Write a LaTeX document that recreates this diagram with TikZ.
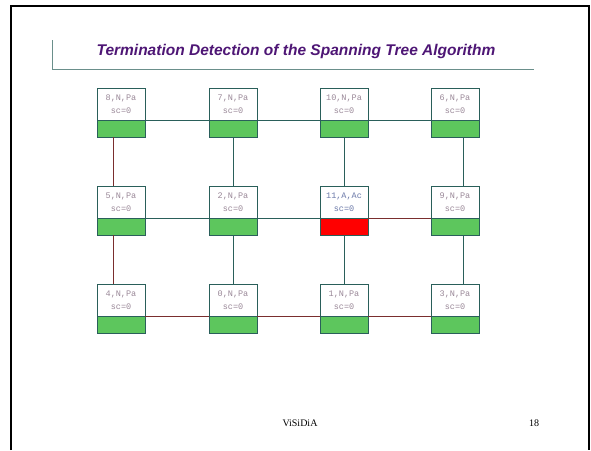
\documentclass[tikz,border=0pt]{standalone}
\usepackage{fontspec}
\setmainfont{Liberation Serif}
\setsansfont{Liberation Sans}
\setmonofont{Liberation Mono}
\usetikzlibrary{positioning}

\definecolor{titlepurple}{HTML}{4E1675}
\definecolor{linkteal}{HTML}{2A5F5A}
\definecolor{linkred}{HTML}{7A2E2E}
\definecolor{passive}{HTML}{5DC65D}
\definecolor{labelgrey}{HTML}{9A8898}
\definecolor{labelblue}{HTML}{6A78A8}

\tikzset{
  proc/.style={draw=linkteal, fill=white, minimum width=48pt, minimum height=32pt,
    inner sep=0pt, outer sep=0pt, align=center, text=labelgrey,
    font=\ttfamily\fontsize{8.5}{12.5}\selectfont},
  flag/.style={draw=linkteal, fill=passive, minimum width=48pt, minimum height=17pt,
    inner sep=0pt, outer sep=0pt},
  link/.style={draw=linkteal, line width=0.8pt},
  redlink/.style={draw=linkred, line width=0.8pt},
}

\begin{document}
\begin{tikzpicture}[x=1pt,y=-1pt]
\useasboundingbox (0,0) rectangle (591,450);
% slide frame and title
\draw[line width=2pt] (10.5,450) -- (10.5,5.5) -- (588.5,5.5) -- (588.5,450);
\draw[draw=linkteal!70, line width=1pt] (52,40) -- (52,69) -- (534,69);
\node [text=titlepurple, font=\sffamily\bfseries\itshape\fontsize{15.5}{18}\selectfont] (title) at (296,51)
  {Termination Detection of the Spanning Tree Algorithm};

% first row
\node [proc] (p8) at (121,104) {8,N,Pa\\sc=0};
\node [flag, below=0pt of p8] (f8) {};
\node [proc] (p7) at (233,104) {7,N,Pa\\sc=0};
\node [flag, below=0pt of p7] (f7) {};
\node [proc] (p10) at (344,104) {10,N,Pa\\sc=0};
\node [flag, below=0pt of p10] (f10) {};
\node [proc] (p6) at (455,104) {6,N,Pa\\sc=0};
\node [flag, below=0pt of p6] (f6) {};

% second row
\node [proc] (p5) at (121,202) {5,N,Pa\\sc=0};
\node [flag, below=0pt of p5] (f5) {};
\node [proc] (p2) at (233,202) {2,N,Pa\\sc=0};
\node [flag, below=0pt of p2] (f2) {};
\node [proc, text=labelblue] (p11) at (344,202) {11,A,Ac\\sc=0};
\node [flag, fill=red, below=0pt of p11] (f11) {};
\node [proc] (p9) at (455,202) {9,N,Pa\\sc=0};
\node [flag, below=0pt of p9] (f9) {};

% third row
\node [proc] (p4) at (121,300) {4,N,Pa\\sc=0};
\node [flag, below=0pt of p4] (f4) {};
\node [proc] (p0) at (233,300) {0,N,Pa\\sc=0};
\node [flag, below=0pt of p0] (f0) {};
\node [proc] (p1) at (344,300) {1,N,Pa\\sc=0};
\node [flag, below=0pt of p1] (f1) {};
\node [proc] (p3) at (455,300) {3,N,Pa\\sc=0};
\node [flag, below=0pt of p3] (f3) {};

% links
\draw[link] (p8.south east) -- (p7.south west);
\draw[link] (p7.south east) -- (p10.south west);
\draw[link] (p10.south east) -- (p6.south west);
\draw[link] (p5.south east) -- (p2.south west);
\draw[link] (p2.south east) -- (p11.south west);
\draw[redlink] (p11.south east) -- (p9.south west);
\draw[redlink] (p4.south east) -- (p0.south west);
\draw[redlink] (p0.south east) -- (p1.south west);
\draw[redlink] (p1.south east) -- (p3.south west);
\draw[redlink] ([xshift=-8pt]f8.south) -- ([xshift=-8pt]p5.north);
\draw[redlink] ([xshift=-8pt]f5.south) -- ([xshift=-8pt]p4.north);
\draw[link] (f7) -- (p2);
\draw[link] (f2) -- (p0);
\draw[link] (f10) -- (p11);
\draw[link] (f11) -- (p1);
\draw[link] ([xshift=8pt]f6.south) -- ([xshift=8pt]p9.north);
\draw[link] ([xshift=8pt]f9.south) -- ([xshift=8pt]p3.north);

% footer
\node [font=\fontsize{10}{12}\selectfont] (footer) at (300,423) {ViSiDiA};
\node [font=\fontsize{10}{12}\selectfont] (page) at (534,423) {18};
\end{tikzpicture}
\end{document}
